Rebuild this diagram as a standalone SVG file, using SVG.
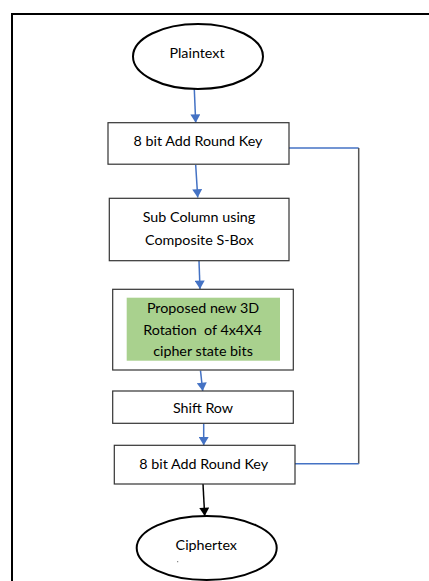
<svg xmlns="http://www.w3.org/2000/svg" width="429" height="581" viewBox="0 0 429 581">
<style>
text{font-family:Lato,"Liberation Sans",Arial,sans-serif;font-size:14.3px;fill:#000;text-anchor:middle;dominant-baseline:central}
.box{fill:#fff;stroke:#333;stroke-width:1.2}
.ell{fill:#fff;stroke:#000;stroke-width:2}
.blue{stroke:#4472C4;stroke-width:1.5;fill:none}
.blk{stroke:#000;stroke-width:1.5;fill:none}
</style>
<defs>
<marker id="ab" markerUnits="userSpaceOnUse" markerWidth="12" markerHeight="10" refX="10" refY="6" orient="auto" viewBox="0 0 10 12">
<path d="M0,0 L10,6 L0,12 Z" fill="#4472C4"/>
</marker>
<marker id="ak" markerUnits="userSpaceOnUse" markerWidth="12" markerHeight="10" refX="10" refY="6" orient="auto" viewBox="0 0 10 12">
<path d="M0,0 L10,6 L0,12 Z" fill="#000"/>
</marker>
</defs>
<rect width="429" height="581" fill="#fff"/>
<path d="M12,581 V14 H429" fill="none" stroke="#000" stroke-width="2"/>
<g id="connectors">
<line class="blue" x1="194.3" y1="89" x2="195.7" y2="122.7" marker-end="url(#ab)"/>
<line class="blue" x1="195.7" y1="165" x2="197.7" y2="197.5" marker-end="url(#ab)"/>
<line class="blue" x1="199" y1="261" x2="200" y2="289" marker-end="url(#ab)"/>
<line class="blue" x1="200.5" y1="370.7" x2="202.7" y2="391" marker-end="url(#ab)"/>
<line class="blue" x1="203.7" y1="423.5" x2="203.7" y2="445.3" marker-end="url(#ab)"/>
<line class="blk" x1="203" y1="484" x2="204.7" y2="516" marker-end="url(#ak)"/>
<path class="blue" d="M289,148 H358.7"/>
<path d="M358.7,148 V463.7" stroke="#555" stroke-width="1.5" fill="none"/>
<path class="blue" d="M358.7,463.7 H295"/>
</g>
<g id="plaintext">
<ellipse class="ell" cx="198" cy="56.5" rx="65" ry="32.5"/>
<text x="197" y="52">Plaintext</text>
</g>
<g id="addroundkey1">
<rect class="box" x="108" y="122.7" width="181" height="41.5"/>
<text x="198" y="140">8 bit Add Round Key</text>
</g>
<g id="subcolumn">
<rect class="box" x="109.3" y="198.3" width="179.7" height="62.4"/>
<text x="199" y="216.7">Sub Column using</text>
<text x="199.3" y="239">Composite S-Box</text>
</g>
<g id="rotation">
<rect class="box" x="112.7" y="289.3" width="180.6" height="80.7"/>
<rect x="126.7" y="297.7" width="153.3" height="63" fill="#A9D18E"/>
<text x="203" y="307.3">Proposed new 3D</text>
<text x="202.5" y="329" xml:space="preserve">Rotation  of 4x4X4</text>
<text x="203" y="350.7">cipher state bits</text>
</g>
<g id="shiftrow">
<rect class="box" x="112.7" y="391" width="180.6" height="32.3"/>
<text x="203" y="407.7">Shift Row</text>
</g>
<g id="addroundkey2">
<rect class="box" x="114.3" y="445.3" width="180.7" height="38.7"/>
<text x="203.7" y="463.7">8 bit Add Round Key</text>
</g>
<g id="ciphertext">
<ellipse class="ell" cx="206.7" cy="548" rx="70" ry="32"/>
<text x="206.3" y="544">Ciphertex</text>
<circle cx="177.7" cy="561.7" r="0.6" fill="#666"/>
</g>
</svg>
